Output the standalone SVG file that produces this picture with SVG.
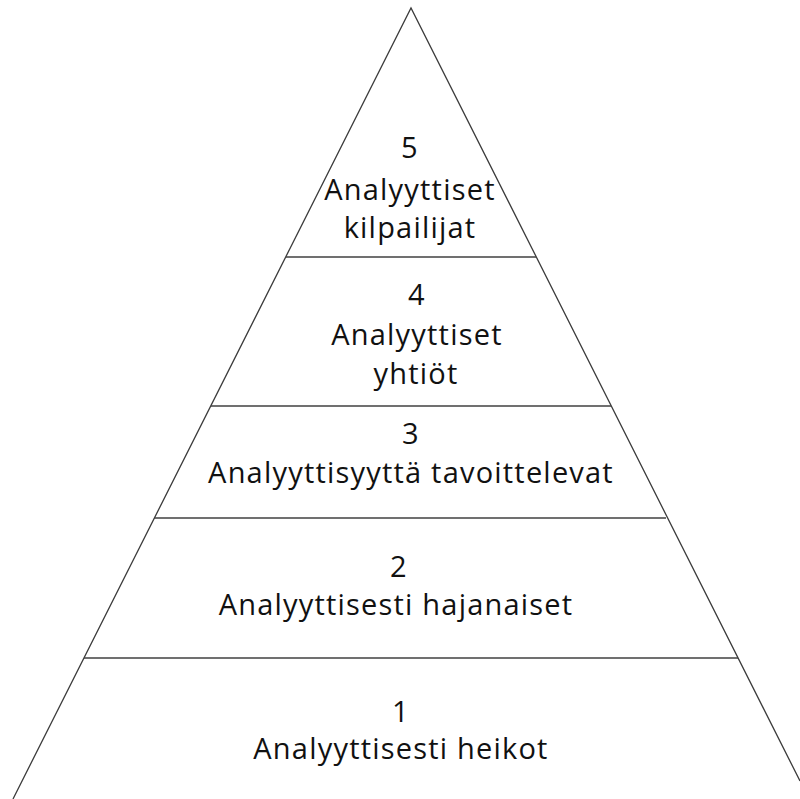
<svg xmlns="http://www.w3.org/2000/svg" width="800" height="799" viewBox="0 0 800 799">
  <style>
    .edge { stroke: #3c3c3c; stroke-width: 1.3; fill: none; }
    .tier { stroke: #404040; stroke-width: 1.6; fill: none; }
    text { font-family: "Open Sans", "Noto Sans", sans-serif; font-size: 29px; letter-spacing: 1.2px; fill: #111; text-anchor: middle; }
  </style>
  <rect width="800" height="799" fill="#ffffff"/>
  <g id="connectors">
    <polyline class="edge" points="13,799 411,8 800,781"/>
    <line class="tier" x1="286" y1="257" x2="536" y2="257"/>
    <line class="tier" x1="211" y1="406" x2="611" y2="406"/>
    <line class="tier" x1="154" y1="518" x2="666" y2="518"/>
    <line class="tier" x1="84" y1="658" x2="738" y2="658"/>
  </g>
  <g id="level5">
    <text x="410" y="158">5</text>
    <text x="410" y="200">Analyyttiset</text>
    <text x="410" y="238">kilpailijat</text>
  </g>
  <g id="level4">
    <text x="417" y="305">4</text>
    <text x="417" y="345">Analyyttiset</text>
    <text x="416" y="384">yhtiöt</text>
  </g>
  <g id="level3">
    <text x="411" y="444">3</text>
    <text x="411" y="483">Analyyttisyyttä tavoittelevat</text>
  </g>
  <g id="level2">
    <text x="399" y="577">2</text>
    <text x="396" y="615">Analyyttisesti hajanaiset</text>
  </g>
  <g id="level1">
    <text x="401" y="722">1</text>
    <text x="401" y="759">Analyyttisesti heikot</text>
  </g>
</svg>
